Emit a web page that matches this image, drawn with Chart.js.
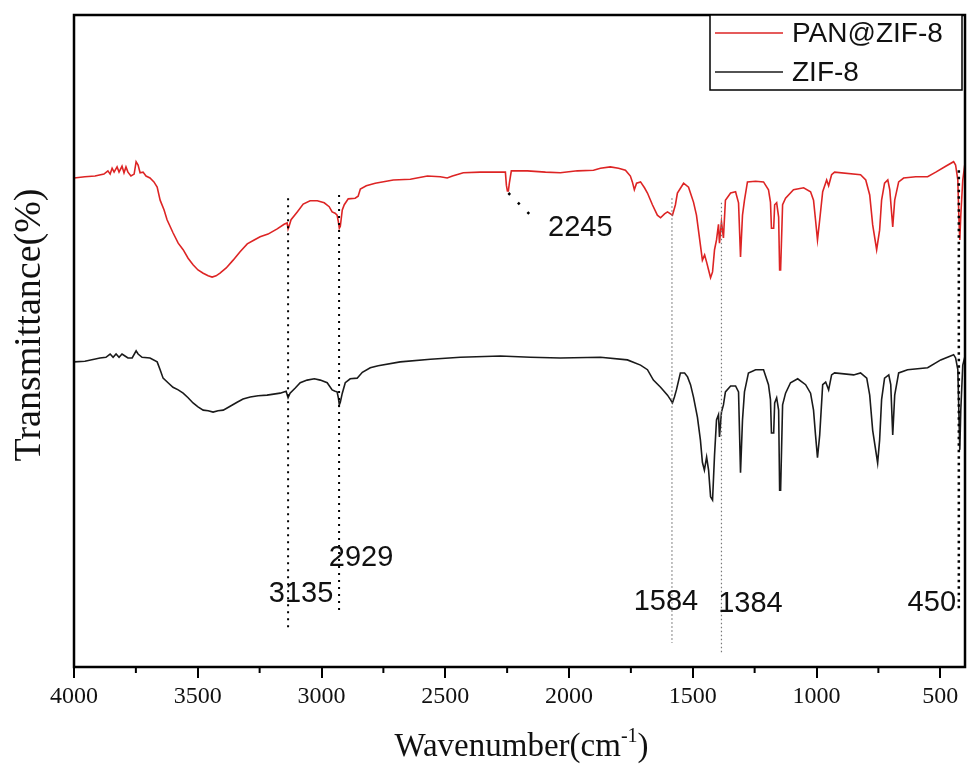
<!DOCTYPE html>
<html>
<head>
<meta charset="utf-8">
<script src="https://cdn.jsdelivr.net/npm/chart.js@4/dist/chart.umd.min.js"></script>
<style>
html,body{margin:0;padding:0;background:#fff;}
canvas{display:block;}
</style>
</head>
<body>
<canvas id="c" width="968" height="778"></canvas>
<script>
// ---------- DATA ----------
const seriesNames = ['PAN@ZIF-8', 'ZIF-8'];

const redWn = [4000,3956,3915,3879,3863,3854,3846,3838,3826,3818,
3806,3798,3790,3782,3770,3757,3749,3741,3733,3721,
3709,3693,3677,3664,3652,3636,3624,3600,3579,3559,
3539,3519,3499,3478,3458,3442,3426,3410,3385,3357,
3329,3300,3272,3248,3216,3179,3151,3139,3135,3131,
3123,3098,3074,3046,3017,2989,2969,2957,2945,2937,
2932,2928,2924,2916,2908,2892,2864,2852,2843,2819,
2783,2710,2641,2572,2520,2492,2471,2427,2358,2305,
2257,2253,2249,2245,2241,2233,2168,2095,2035,1966,
1901,1873,1833,1800,1772,1752,1744,1736,1727,1711,
1695,1683,1663,1643,1630,1614,1602,1582,1570,1562,
1537,1517,1497,1485,1477,1461,1452,1444,1436,1428,
1420,1412,1404,1396,1392,1384,1376,1368,1347,1327,
1315,1307,1299,1291,1279,1246,1214,1194,1186,1182,
1173,1169,1161,1153,1149,1145,1137,1125,1093,1052,
1024,1012,1004,996,987,975,959,951,939,927,
822,801,785,773,757,745,737,725,712,704,
692,684,668,648,599,551,518,478,446,438,
429,425,421,417,409,401];
const redT = [75.0,75.2,75.3,75.6,76.1,75.6,76.5,75.9,76.7,75.9,
76.8,75.8,76.7,75.9,75.3,75.6,77.5,77.0,75.8,75.9,
75.3,75.0,74.4,73.6,71.6,70.1,68.6,66.6,65.0,64.0,
62.7,61.7,60.9,60.4,60.0,59.8,60.0,60.4,61.2,62.4,
63.7,64.9,65.5,66.0,66.4,67.2,67.9,68.1,67.2,67.6,
68.6,69.8,71.0,71.5,71.5,71.2,70.6,69.8,69.6,69.3,
68.3,67.3,67.6,70.1,70.9,71.8,71.9,72.2,73.3,73.8,
74.2,74.7,74.8,75.3,75.2,75.0,75.3,75.8,75.9,75.9,
75.9,73.9,73.0,73.0,74.2,76.1,76.1,75.9,75.8,76.1,
76.2,76.5,76.7,76.5,76.2,75.3,74.4,73.2,74.2,74.4,
73.5,72.7,70.9,69.3,68.9,69.5,69.8,69.3,70.9,72.7,
74.2,73.6,71.3,69.3,67.0,62.4,63.2,62.1,60.9,59.7,
60.6,64.0,65.5,67.9,65.0,68.3,65.8,71.6,72.7,72.9,
71.2,62.9,69.3,71.6,74.4,74.5,74.4,73.2,71.3,67.3,
67.3,70.9,71.2,69.0,60.9,60.9,70.9,71.9,73.2,73.5,
72.9,71.6,68.6,65.5,68.6,72.9,74.7,73.8,75.5,75.9,
75.5,74.7,72.4,67.8,64.0,67.0,71.6,74.2,74.7,73.2,
67.5,71.6,74.4,75.0,75.2,75.2,75.9,76.8,77.5,77.0,
74.7,69.3,65.5,69.3,74.7,77.0];

const blackWn = [4000,3956,3895,3871,3854,3842,3830,3818,3806,3794,
3782,3765,3749,3741,3725,3693,3664,3652,3640,3620,
3600,3579,3559,3539,3519,3499,3478,3458,3438,3418,
3397,3369,3341,3317,3288,3256,3220,3167,3143,3135,
3127,3106,3086,3058,3029,3005,2977,2957,2945,2937,
2932,2928,2924,2916,2904,2884,2856,2835,2803,2771,
2682,2560,2439,2277,2156,2035,1873,1764,1711,1683,
1659,1630,1602,1590,1582,1574,1566,1550,1533,1521,
1509,1497,1481,1469,1461,1453,1444,1436,1428,1420,
1412,1404,1396,1392,1384,1376,1368,1347,1327,1315,
1307,1299,1291,1275,1246,1214,1194,1186,1182,1173,
1169,1161,1153,1149,1145,1137,1125,1105,1076,1044,
1024,1012,1004,996,987,975,963,951,939,927,
850,822,797,785,773,753,745,737,725,708,
700,692,684,668,632,551,498,446,438,429,
425,421,417,409,401];
const blackT = [46.8,46.9,47.4,47.5,48.0,47.5,48.0,47.5,48.0,47.7,
47.4,47.4,48.5,48.0,47.5,47.4,46.8,45.6,44.3,43.6,
42.9,42.5,42.0,41.3,40.5,39.9,39.4,39.3,39.1,39.3,
39.4,40.0,40.6,41.1,41.4,41.6,41.7,42.0,42.3,41.3,
42.0,42.8,43.6,44.0,44.2,44.0,43.6,42.5,42.3,42.2,
41.3,40.2,40.6,42.0,43.6,44.2,44.3,45.2,45.9,46.2,
46.8,47.2,47.5,47.7,47.5,47.4,47.5,47.1,46.3,45.6,
44.0,42.9,41.7,41.0,40.5,41.4,42.5,45.1,45.1,44.5,
43.3,41.4,38.3,34.8,31.4,30.2,32.2,30.2,26.1,25.6,
32.5,37.9,38.7,35.3,39.1,40.2,42.2,43.1,43.1,42.2,
29.8,37.9,42.2,45.1,45.6,45.6,43.3,41.0,35.9,35.9,
40.5,41.3,39.4,27.1,27.1,40.2,42.0,43.6,44.2,43.3,
42.0,39.4,35.6,32.1,35.6,43.3,43.7,42.5,44.8,45.1,
44.8,45.1,44.3,41.7,36.3,31.3,34.8,41.0,44.3,44.8,
43.3,35.6,41.7,45.1,45.6,45.9,47.1,47.9,47.4,45.6,
39.4,33.3,39.4,46.3,47.5];

const majorTicks = [4000,3500,3000,2500,2000,1500,1000,500];
const minorTicks = [3750,3250,2750,2250,1750,1250,750];

// peak markers: wavenumber where the dotted line sits, and its label text
const peakWn    = [3135, 2929, 2245, 1584, 1384, 425];
const peakText  = ['3135','2929','2245','1584','1384','450'];

// ---------- STYLE (positions / looks of annotations) ----------
const peakStyle = [
  {kind:'v', top:71.9, bot:5.4, dx:13,  ly:11.2, color:'#000', lw:2,   dash:[2,5]},
  {kind:'v', top:72.4, bot:8.7, dx:22,  ly:16.7, color:'#000', lw:2,   dash:[2,5]},
  {kind:'d', top:72.7, endWn:2132, endT:68.4, dx:72, ly:67.3, color:'#000', lw:2.5, dash:[2.5,11]},
  {kind:'v', top:71.9, bot:3.7, dx:-6,  ly:10.0, color:'#777', lw:1.2, dash:[1.5,2.5]},
  {kind:'v', top:71.2, bot:2.1, dx:29,  ly:9.7,  color:'#777', lw:1.2, dash:[1.5,2.5]},
  {kind:'v', top:76.2, bot:8.4, dx:-27, ly:9.8,  color:'#000', lw:2.5, dash:[2.5,4]}
];

const toXY = (w,t) => w.map((v,i)=>({x:v, y:t[i]}));

const decor = {
  id:'decor',
  afterDraw(chart){
    const {ctx, chartArea:a, scales:{x, y}} = chart;
    ctx.save();
    // frame
    ctx.strokeStyle = '#000';
    ctx.lineWidth = 2.5;
    ctx.strokeRect(a.left, a.top, a.right - a.left, a.bottom - a.top);
    // minor ticks
    ctx.lineWidth = 2;
    minorTicks.forEach(v=>{
      const px = x.getPixelForValue(v);
      ctx.beginPath(); ctx.moveTo(px, a.bottom); ctx.lineTo(px, a.bottom + 6); ctx.stroke();
    });
    // peak annotations
    peakWn.forEach((w,i)=>{
      const s = peakStyle[i];
      const px = x.getPixelForValue(w);
      ctx.save();
      ctx.strokeStyle = s.color; ctx.lineWidth = s.lw; ctx.setLineDash(s.dash);
      ctx.beginPath();
      ctx.moveTo(px, y.getPixelForValue(s.top));
      if (s.kind === 'v') ctx.lineTo(px, y.getPixelForValue(s.bot));
      else ctx.lineTo(x.getPixelForValue(s.endWn), y.getPixelForValue(s.endT));
      ctx.stroke();
      ctx.restore();
      ctx.fillStyle = '#111';
      ctx.font = '29px "Liberation Sans", Arial, sans-serif';
      ctx.textAlign = 'center'; ctx.textBaseline = 'middle';
      ctx.fillText(peakText[i], px + s.dx, y.getPixelForValue(s.ly));
    });
    // legend
    const bx = a.right - 255, by = a.top, bw = 252, bh = 75;
    ctx.fillStyle = '#fff';
    ctx.fillRect(bx, by, bw, bh);
    ctx.strokeStyle = '#000'; ctx.lineWidth = 1.5;
    ctx.strokeRect(bx, by, bw, bh);
    chart.data.datasets.forEach((ds, i)=>{
      const ly = by + 18 + i * 39;
      ctx.strokeStyle = ds.borderColor; ctx.lineWidth = 1.6;
      ctx.beginPath(); ctx.moveTo(bx + 5, ly); ctx.lineTo(bx + 73, ly); ctx.stroke();
      ctx.fillStyle = '#111';
      ctx.font = '28px "Liberation Sans", Arial, sans-serif';
      ctx.textAlign = 'left'; ctx.textBaseline = 'middle';
      ctx.fillText(ds.label, bx + 82, ly + 1);
    });
    // y title
    ctx.save();
    ctx.translate(30, (a.top + a.bottom) / 2 - 16);
    ctx.rotate(-Math.PI / 2);
    ctx.fillStyle = '#111';
    ctx.font = '38px "Liberation Serif", "Times New Roman", serif';
    ctx.textAlign = 'center'; ctx.textBaseline = 'middle';
    ctx.fillText('Transmittance(%)', 0, 0);
    ctx.restore();
    // x title with superscript
    const big = '33px "Liberation Serif", "Times New Roman", serif';
    const sup = '20px "Liberation Serif", "Times New Roman", serif';
    ctx.fillStyle = '#111';
    ctx.textAlign = 'left'; ctx.textBaseline = 'alphabetic';
    ctx.font = big; const w1 = ctx.measureText('Wavenumber(cm').width; const w3 = ctx.measureText(')').width;
    ctx.font = sup; const w2 = ctx.measureText('-1').width;
    const cx = (a.left + a.right) / 2 + 2;
    let sx = cx - (w1 + w2 + w3) / 2;
    const base = a.bottom + 89;
    ctx.font = big; ctx.fillText('Wavenumber(cm', sx, base);
    ctx.font = sup; ctx.fillText('-1', sx + w1, base - 14);
    ctx.font = big; ctx.fillText(')', sx + w1 + w2, base);
    ctx.restore();
  }
};

new Chart(document.getElementById('c'), {
  type: 'line',
  data: {
    datasets: [
      {label: seriesNames[0], data: toXY(redWn, redT), borderColor: '#dd2424', borderWidth: 1.6, pointRadius: 0, tension: 0, fill: false},
      {label: seriesNames[1], data: toXY(blackWn, blackT), borderColor: '#1a1a1a', borderWidth: 1.6, pointRadius: 0, tension: 0, fill: false}
    ]
  },
  options: {
    responsive: false,
    devicePixelRatio: 1,
    animation: false,
    layout: {padding: {left: 0, right: 3, top: 15, bottom: 0}},
    plugins: {legend: {display: false}, tooltip: {enabled: false}},
    scales: {
      x: {
        type: 'linear', min: 400, max: 4000, reverse: true,
        afterBuildTicks: s => { s.ticks = majorTicks.map(v => ({value: v})); },
        afterFit: s => { s.height = 111; },
        ticks: {color: '#111', padding: 4, maxRotation: 0, autoSkip: false,
          callback: v => String(v),
          font: {family: '"Liberation Serif", "Times New Roman", serif', size: 24}},
        grid: {display: true, drawOnChartArea: false, drawTicks: true, tickLength: 11, color: '#000', lineWidth: 2},
        border: {display: false}
      },
      y: {
        min: 0, max: 100,
        afterFit: s => { s.width = 74; },
        ticks: {display: false},
        grid: {display: false, drawTicks: false},
        border: {display: false}
      }
    }
  },
  plugins: [decor]
});
</script>
</body>
</html>
